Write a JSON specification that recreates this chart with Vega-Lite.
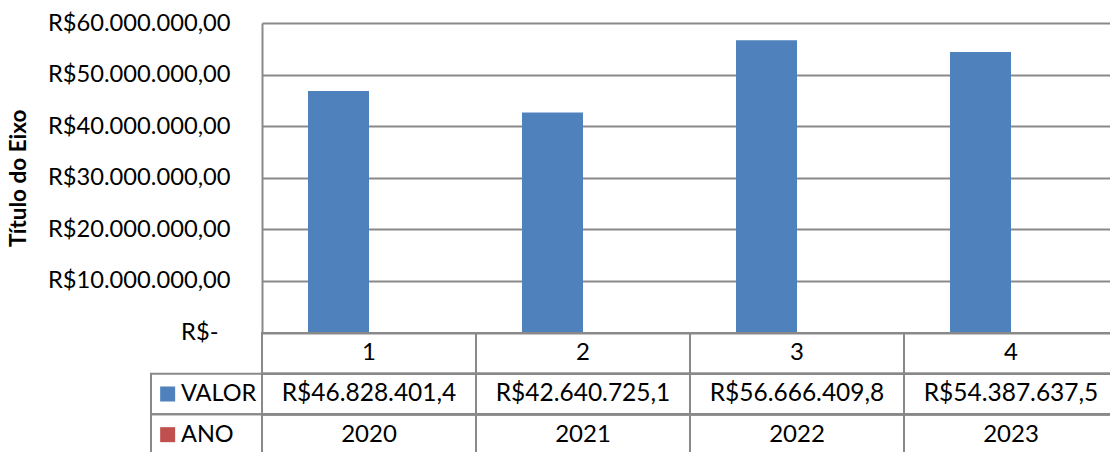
{
  "$schema": "https://vega.github.io/schema/vega-lite/v6.json",
  "padding": {"left": 7, "top": 11, "right": 0, "bottom": 0},
  "spacing": 0,
  "bounds": "flush",
  "config": {
    "locale": {"number": {"decimal": ",", "thousands": ".", "grouping": [3], "currency": ["R$", ""]}},
    "view": {"stroke": null},
    "font": "Lato",
    "concat": {"spacing": 0}
  },
  "datasets": {
    "dados": [
      {"cat": 1, "VALOR": 46828401.4, "ANO": 2020},
      {"cat": 2, "VALOR": 42640725.1, "ANO": 2021},
      {"cat": 3, "VALOR": 56666409.8, "ANO": 2022},
      {"cat": 4, "VALOR": 54387637.5, "ANO": 2023}
    ]
  },
  "vconcat": [
    {
      "width": 856,
      "height": 309.5,
      "data": {"name": "dados"},
      "transform": [{"fold": ["VALOR", "ANO"], "as": ["serie", "valor"]}],
      "mark": {"type": "bar"},
      "encoding": {
        "x": {"field": "cat", "type": "ordinal", "axis": null, "scale": {"paddingInner": 0, "paddingOuter": 0}},
        "xOffset": {"field": "serie", "type": "nominal", "sort": ["VALOR", "ANO"], "scale": {"domain": ["VALOR", "ANO"], "paddingInner": 0, "paddingOuter": 0.754}},
        "y": {
          "field": "valor", "type": "quantitative",
          "scale": {"domain": [0, 60000000], "nice": false},
          "axis": {
            "values": [0, 10000000, 20000000, 30000000, 40000000, 50000000, 60000000],
            "format": "$,.2f",
            "labelExpr": "datum.value == 0 ? 'R$-' : datum.label",
            "title": "Título do Eixo",
            "titleFont": "Lato", "titleFontSize": 22.5, "titleFontWeight": "bold", "titleColor": "#000000", "titlePadding": 31.5,
            "labelFont": "Lato", "labelFontSize": 23.7, "labelColor": "#000000",
            "labelPadding": {"condition": {"test": "datum.value == 0", "value": 44}, "value": 32},
            "labelLimit": 400,
            "ticks": false, "tickSize": 0,
            "grid": true, "gridColor": "#898989", "gridWidth": 2, "gridOpacity": 1,
            "domain": true, "domainColor": "#898989", "domainWidth": 2,
            "labelFlush": false, "labelOverlap": false
          }
        },
        "color": {"field": "serie", "type": "nominal", "scale": {"domain": ["VALOR", "ANO"], "range": ["#4F81BD", "#C0504D"]}, "legend": null}
      }
    },
    {
      "width": 856,
      "height": 122,
      "data": {"name": "dados"},
      "resolve": {"scale": {"x": "independent"}},
      "layer": [
        {
          "layer": [
            {
              "mark": {"type": "rect", "fillOpacity": 0, "stroke": "#898989", "strokeWidth": 2},
              "encoding": {
                "x": {"field": "cat", "type": "ordinal", "axis": null, "scale": {"paddingInner": 0, "paddingOuter": 0}}
              }
            },
            {
              "transform": [{"fold": ["VALOR", "ANO"], "as": ["serie", "valor"]}],
              "mark": {"type": "rect", "fillOpacity": 0, "stroke": "#898989", "strokeWidth": 2},
              "encoding": {
                "y": {"field": "serie", "type": "nominal", "axis": null, "scale": {"domain": ["Nº", "VALOR", "ANO"], "paddingInner": 0, "paddingOuter": 0}}
              }
            },
            {
              "mark": {"type": "text", "fontSize": 24, "color": "#000000", "font": "Lato"},
              "encoding": {
                "x": {"field": "cat", "type": "ordinal"},
                "y": {"datum": "Nº", "type": "nominal"},
                "text": {"field": "cat", "type": "nominal"}
              }
            },
            {
              "mark": {"type": "text", "fontSize": 24.5, "color": "#000000", "font": "Lato"},
              "encoding": {
                "x": {"field": "cat", "type": "ordinal"},
                "y": {"datum": "VALOR", "type": "nominal"},
                "text": {"field": "VALOR", "type": "quantitative", "format": "$,.1f"}
              }
            },
            {
              "mark": {"type": "text", "fontSize": 24, "color": "#000000", "font": "Lato"},
              "encoding": {
                "x": {"field": "cat", "type": "ordinal"},
                "y": {"datum": "ANO", "type": "nominal"},
                "text": {"field": "ANO", "type": "quantitative", "format": "d"}
              }
            }
          ]
        },
        {
          "transform": [
            {"fold": ["VALOR", "ANO"], "as": ["serie", "valor"]},
            {"aggregate": [{"op": "count", "as": "n"}], "groupby": ["serie"]}
          ],
          "layer": [
            {
              "mark": {"type": "rect", "fillOpacity": 0, "stroke": "#898989", "strokeWidth": 2},
              "encoding": {
                "x": {"datum": "Legenda", "type": "nominal", "axis": null, "scale": {"type": "band", "domain": ["Legenda"], "range": [-111, 0], "paddingInner": 0, "paddingOuter": 0}},
                "y": {"field": "serie", "type": "nominal"}
              }
            },
            {
              "mark": {"type": "point", "shape": "square", "filled": true, "size": 225, "opacity": 1},
              "encoding": {
                "x": {"datum": "Legenda", "type": "nominal", "bandPosition": 0.15, "scale": {"type": "band", "domain": ["Legenda"], "range": [-111, 0], "paddingInner": 0, "paddingOuter": 0}},
                "y": {"field": "serie", "type": "nominal"},
                "color": {"field": "serie", "type": "nominal", "scale": {"domain": ["VALOR", "ANO"], "range": ["#4F81BD", "#C0504D"]}, "legend": null}
              }
            },
            {
              "mark": {"type": "text", "align": "left", "fontSize": 23.5, "color": "#000000", "font": "Lato"},
              "encoding": {
                "x": {"datum": "Legenda", "type": "nominal", "bandPosition": 0.27, "scale": {"type": "band", "domain": ["Legenda"], "range": [-111, 0], "paddingInner": 0, "paddingOuter": 0}},
                "y": {"field": "serie", "type": "nominal"},
                "text": {"field": "serie", "type": "nominal"}
              }
            }
          ]
        }
      ]
    }
  ]
}
